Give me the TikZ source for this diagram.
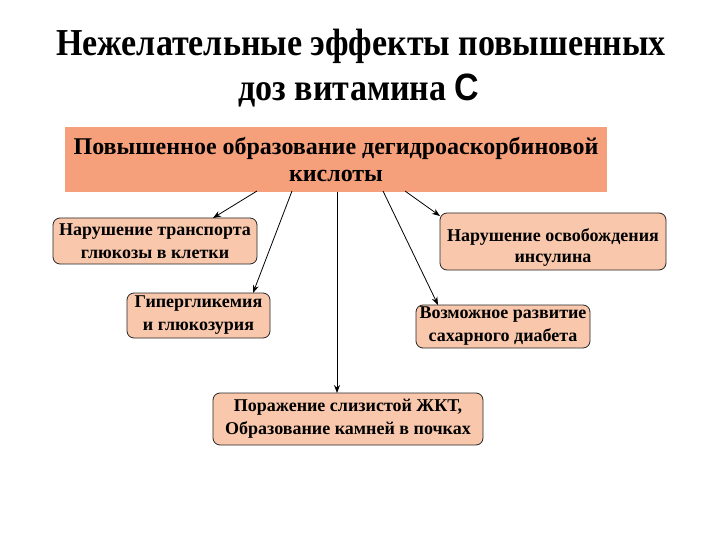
\documentclass[tikz,border=0pt]{standalone}
\usepackage{fontspec}
\setmainfont{Liberation Serif}
\usetikzlibrary{arrows.meta}
\definecolor{topfill}{HTML}{F6A07B}
\definecolor{boxfill}{HTML}{F9C8AC}
\tikzset{
  effbox/.style={draw=black!85, line width=0.8pt, rounded corners=7pt, fill=boxfill, align=center, font=\bfseries\fontsize{18}{23}\selectfont, inner sep=0pt},
  arr/.style={-{Stealth[length=8pt,width=6pt]}, line width=0.8pt, black}
}
\begin{document}
\begin{tikzpicture}[x=1pt,y=-1pt]
\useasboundingbox (0,0) rectangle (720,540);
\fill[white] (0,0) rectangle (720,540);
% title
\node[font=\bfseries\fontsize{34}{40}\selectfont, xscale=1.0, yscale=1.12] (t1) at (361,46) {Нежелательные эффекты повышенных};
\node[font=\bfseries\fontsize{34}{40}\selectfont, xscale=1.0, yscale=1.12] (t2) at (359,91) {доз витамина {\fontspec{Liberation Sans}С}};
% top box
\node[fill=topfill, minimum width=542pt, minimum height=65pt, inner sep=0pt] (top) at (336,160) {};
\node[align=center, font=\bfseries\fontsize{24}{27}\selectfont] (toptext) at (336,160) {Повышенное образование дегидроаскорбиновой\\кислоты};
% boxes
\node[effbox, minimum width=204pt, minimum height=46pt] (b1) at (155,241) {Нарушение транспорта\\глюкозы в клетки};
\node[effbox, minimum width=143pt, minimum height=45pt] (b2) at (198.5,315.5) {Гипергликемия\\и глюкозурия};
\node[effbox, minimum width=226pt, minimum height=57pt] (b3) at (553,241.5) {};
\node[align=center, font=\bfseries\fontsize{18}{21}\selectfont, inner sep=0pt] (b3t) at (553,247) {Нарушение освобождения\\инсулина};
\node[effbox, minimum width=174pt, minimum height=43pt] (b4) at (503,326.5) {Возможное развитие\\сахарного диабета};
\node[effbox, minimum width=270pt, minimum height=52pt] (b5) at (348,419) {Поражение слизистой ЖКТ,\\Образование камней в почках};
% anchor coordinates on top box bottom edge
\coordinate (s1) at (257,191);
\coordinate (s2) at (292,191);
\coordinate (s3) at (337,192);
\coordinate (s4) at (383,191);
\coordinate (s5) at (405,191);
\coordinate (e1) at (213,218);
\coordinate (e2) at (253,293);
\coordinate (e3) at (337,393);
\coordinate (e4) at (438,305);
\coordinate (e5) at (440,216);
\draw[arr] (s1) -- (e1);
\draw[arr] (s2) -- (e2);
\draw[arr] (s3) -- (e3);
\draw[arr] (s4) -- (e4);
\draw[arr] (s5) -- (e5);
\end{tikzpicture}
\end{document}
